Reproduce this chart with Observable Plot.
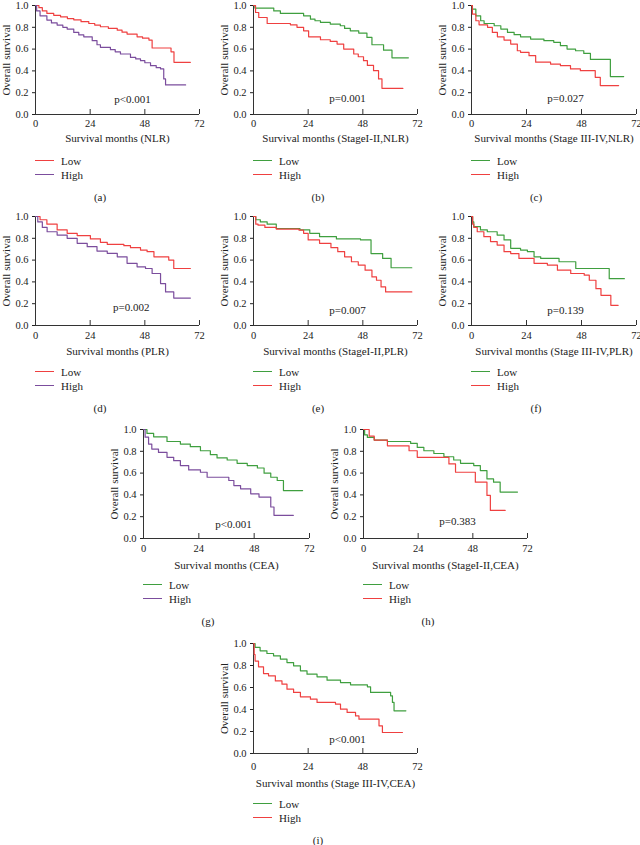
<!DOCTYPE html>
<html><head><meta charset="utf-8">
<script src="https://cdn.jsdelivr.net/npm/d3@7"></script>
<script src="https://cdn.jsdelivr.net/npm/@observablehq/plot@0.6"></script>
<style>
body{margin:0;background:#fff;}
#fig{position:relative;width:640px;height:845px;font-family:"Liberation Serif","DejaVu Serif",serif;color:#222;overflow:hidden;}
.panel{position:absolute;}
.sw{position:absolute;width:19px;height:0;}
.lt{position:absolute;font-size:11px;line-height:14px;white-space:nowrap;}
.lab{position:absolute;font-size:11px;line-height:14px;transform:translateX(-50%);}
</style></head><body><div id="fig"></div>
<script>
const red = "#ef4040", purple = "#7b4d9d", green = "#3f9f3f";
const xTicks = [0, 24, 48, 72];
const yTicks = [0, 0.2, 0.4, 0.6, 0.8, 1.0];
const groups = ["Low", "High"];
const yTitle = "Overall survival";
const xTitles = ["Survival months (NLR)", "Survival months (StageI-II,NLR)", "Survival months (Stage III-IV,NLR)",
  "Survival months (PLR)", "Survival months (StageI-II,PLR)", "Survival months (Stage III-IV,PLR)",
  "Survival months (CEA)", "Survival months (StageI-II,CEA)", "Survival months (Stage III-IV,CEA)"];
const panelLabels = ["(a)", "(b)", "(c)", "(d)", "(e)", "(f)", "(g)", "(h)", "(i)"];
const pLabels = ["p<0.001", "p=0.001", "p=0.027", "p=0.002", "p=0.007", "p=0.139", "p<0.001", "p=0.383", "p<0.001"];
const pMonths = [42.6, 41.3, 41, 42, 41.3, 41, 39, 41.3, 41.3];
const pSurv = [0.14, 0.147, 0.15, 0.165, 0.14, 0.14, 0.13, 0.16, 0.13];

// Kaplan-Meier curves: [months, survival]
const aLow = [[0,1],[1.5,0.98],[3,0.95],[5,0.927],[8,0.91],[11,0.896],[14,0.88],[16.8,0.869],[20,0.852],[23.4,0.835],[26,0.82],[28.5,0.805],[32,0.79],[35.9,0.774],[38,0.755],[40.2,0.738],[44.6,0.713],[47,0.7],[49.8,0.683],[51.2,0.61],[59.5,0.575],[60.8,0.479],[68,0.479]];
const aHigh = [[0,1],[0.5,0.95],[2,0.905],[5,0.866],[7,0.84],[9.5,0.82],[12,0.8],[13.9,0.784],[16.8,0.753],[19,0.73],[21.2,0.713],[24.9,0.677],[27,0.64],[28.5,0.616],[32.9,0.595],[35,0.575],[37.3,0.555],[41.7,0.524],[44,0.51],[46.1,0.494],[48,0.475],[50.5,0.448],[53,0.43],[54.9,0.418],[56.3,0.326],[57.1,0.271],[65.9,0.271]];
const bLow = [[0,1],[0.6,0.976],[8.9,0.95],[11.8,0.927],[22,0.905],[25,0.875],[27,0.86],[29.4,0.845],[33.7,0.83],[38.1,0.814],[40,0.79],[42.5,0.768],[46.2,0.747],[49.8,0.707],[52,0.64],[57.1,0.59],[60.8,0.52],[68,0.52]];
const bHigh = [[0,1],[0.9,0.936],[2.3,0.89],[6,0.835],[16.2,0.823],[19.1,0.8],[22,0.768],[24.2,0.713],[29.4,0.686],[33.7,0.67],[36.7,0.646],[39.6,0.6],[44,0.555],[46,0.53],[48.3,0.494],[50,0.45],[52.7,0.402],[54.9,0.326],[56.4,0.24],[65.6,0.24]];
const cLow = [[0,1],[0.4,0.966],[1.9,0.905],[4,0.86],[5.5,0.835],[9.9,0.814],[12.8,0.784],[15.7,0.753],[18.6,0.732],[21.4,0.713],[25.8,0.692],[31.6,0.677],[35.9,0.662],[38.8,0.631],[41.7,0.6],[45.4,0.585],[49,0.56],[51.9,0.505],[60.6,0.348],[66.4,0.348]];
const cHigh = [[0,1],[0.4,0.92],[1.9,0.86],[3.3,0.823],[7,0.8],[9.1,0.753],[11.3,0.713],[14.2,0.683],[17.1,0.646],[20,0.585],[21.4,0.57],[25.1,0.54],[28,0.48],[34.5,0.463],[38.8,0.448],[43.2,0.418],[47.5,0.402],[54,0.341],[56.2,0.265],[64.2,0.265]];
const dLow = [[0,1],[2,0.97],[5,0.93],[9.5,0.877],[13.9,0.846],[18.3,0.825],[24.1,0.794],[28.5,0.763],[31.5,0.745],[38.8,0.732],[41.7,0.714],[46.1,0.692],[49,0.677],[52,0.63],[58.5,0.6],[60.7,0.523],[68,0.523]];
const dHigh = [[0,1],[1,0.95],[3,0.9],[5.1,0.86],[9.5,0.83],[13.9,0.8],[18.3,0.754],[22.7,0.723],[27,0.683],[31.5,0.662],[35.9,0.63],[40.2,0.57],[44.6,0.538],[48.3,0.523],[51.2,0.477],[54.9,0.385],[57.1,0.308],[60.7,0.252],[68,0.252]];
const eLow = [[0,1],[1,0.97],[3,0.95],[6,0.93],[10,0.89],[20.4,0.877],[24.7,0.846],[29,0.815],[36.4,0.794],[47,0.785],[51.6,0.66],[56.7,0.615],[60.4,0.53],[69.5,0.53]];
const eHigh = [[0,1],[1,0.93],[2,0.92],[5,0.9],[10,0.885],[20,0.875],[22,0.846],[24,0.785],[29,0.754],[34,0.714],[37,0.677],[40,0.63],[43,0.585],[46,0.554],[49,0.508],[52,0.446],[54,0.415],[56,0.354],[58,0.308],[69.5,0.308]];
const fLow = [[0,1],[0.5,0.95],[1,0.907],[3.9,0.877],[6.9,0.86],[11.2,0.83],[14.2,0.785],[17.1,0.708],[21.4,0.692],[24.4,0.677],[27.3,0.63],[30.2,0.615],[38.2,0.585],[45.5,0.523],[60.1,0.43],[66.7,0.43]];
const fHigh = [[0,1],[0.5,0.93],[1,0.9],[2.5,0.86],[5.4,0.815],[8.3,0.77],[11.2,0.738],[14.2,0.677],[17.1,0.66],[20.7,0.615],[27.3,0.57],[33.1,0.554],[37.5,0.508],[43.3,0.477],[49.2,0.462],[51.4,0.415],[54.3,0.338],[56.5,0.277],[60.8,0.185],[64,0.185]];
const gLow = [[0,1],[1.5,0.964],[4.4,0.933],[10.2,0.89],[16,0.866],[20.3,0.842],[24.7,0.805],[29,0.769],[31.9,0.739],[36.3,0.72],[40.6,0.69],[45,0.669],[49.4,0.647],[52.3,0.599],[55.2,0.562],[58,0.532],[60.7,0.44],[69,0.44]];
const gHigh = [[0,1],[0.7,0.93],[2.2,0.866],[3.6,0.82],[6.5,0.79],[10.2,0.745],[13.1,0.714],[16,0.669],[19.6,0.629],[24.7,0.608],[27.6,0.562],[37,0.532],[39.2,0.486],[42.1,0.456],[46.5,0.41],[50.1,0.38],[55.2,0.289],[56.6,0.213],[65,0.213]];
const hLow = [[0,1],[0.5,0.95],[1.7,0.927],[4.7,0.903],[10.5,0.89],[20.7,0.872],[23.6,0.836],[26.5,0.805],[30.9,0.78],[35.3,0.75],[39.6,0.72],[42.6,0.69],[48.4,0.669],[51.3,0.623],[54.2,0.547],[57.1,0.517],[60,0.426],[67.6,0.426]];
const hHigh = [[0,1],[2.5,0.94],[4.7,0.903],[10.5,0.85],[20,0.805],[23.6,0.745],[37.5,0.684],[40.4,0.608],[49.1,0.517],[54.2,0.395],[55.7,0.258],[62.2,0.258]];
const iLow = [[0,1],[0.7,0.964],[2.9,0.933],[5.9,0.909],[8.8,0.888],[11.8,0.858],[14.7,0.827],[17.6,0.797],[20.6,0.752],[23.5,0.721],[27.9,0.697],[32.3,0.667],[38.2,0.645],[42.6,0.624],[50,0.606],[51.4,0.555],[60.2,0.524],[61,0.464],[61.7,0.388],[66.9,0.388]];
const iHigh = [[0,1],[0.3,0.9],[0.7,0.84],[2.2,0.788],[4.4,0.727],[6.6,0.706],[9.6,0.66],[12.5,0.63],[14.7,0.585],[17.6,0.555],[20.6,0.515],[25,0.494],[27.9,0.464],[36,0.448],[38.2,0.403],[41.1,0.373],[44.8,0.342],[46.3,0.312],[55.1,0.252],[56.6,0.191],[65.4,0.191]];

const curves = [[aLow,aHigh],[bLow,bHigh],[cLow,cHigh],[dLow,dHigh],[eLow,eHigh],[fLow,fHigh],[gLow,gHigh],[hLow,hHigh],[iLow,iHigh]];
const colors = [[red,purple],[green,red],[green,red],[red,purple],[green,red],[green,red],[green,purple],[green,red],[green,red]];

// layout (pixels): axis origin x, top of y axis, axis size, offsets below axis
const layout = [
  {x0:35,  top:5,   w:164, h:109, tk:5,  tt:24, lg:47, lb:83},
  {x0:253, top:5,   w:164, h:109, tk:5,  tt:24, lg:47, lb:83},
  {x0:471, top:5,   w:165, h:109, tk:5,  tt:24, lg:47, lb:83},
  {x0:35,  top:216, w:164, h:109, tk:6,  tt:26, lg:47, lb:83},
  {x0:253, top:216, w:164, h:109, tk:6,  tt:26, lg:47, lb:83},
  {x0:471, top:216, w:165, h:109, tk:6,  tt:26, lg:47, lb:83},
  {x0:143, top:429, w:166, h:109, tk:6,  tt:27, lg:47, lb:83},
  {x0:363, top:429, w:164, h:109, tk:6,  tt:27, lg:47, lb:83},
  {x0:253, top:643, w:164, h:110, tk:9,  tt:30, lg:51, lb:87}
];

const fig = document.getElementById("fig");
const font = '"Liberation Serif","DejaVu Serif",serif';
const ML = 36, MR = 16, MT = 6, MB = 42;

layout.forEach((L, k) => {
  const marks = [
    Plot.axisY({ticks: yTicks, tickFormat: d3.format(".1f"), tickSize: 3, tickPadding: 4, fontSize: 10.5, label: null}),
    Plot.axisX({ticks: xTicks, tickSize: 0, tickPadding: L.tk, fontSize: 10.5, label: null}),
    Plot.tickX(xTicks.slice(1), {insetTop: L.h - 5, stroke: "#333"}),
    Plot.ruleY([0], {stroke: "#333"}),
    Plot.ruleX([0], {stroke: "#333"})
  ];
  curves[k].forEach((c, j) => {
    marks.push(Plot.line(c, {x: d => d[0], y: d => d[1], curve: "step-after", stroke: colors[k][j], strokeWidth: 1.2}));
  });
  marks.push(Plot.text([pLabels[k]], {x: () => pMonths[k], y: () => pSurv[k], text: d => d, fontSize: 11, fill: "#222"}));
  marks.push(Plot.text([xTitles[k]], {frameAnchor: "bottom", dy: L.tt, lineAnchor: "middle", textAnchor: "middle", text: d => d, fontSize: 11, fill: "#222"}));
  marks.push(Plot.text([yTitle], {frameAnchor: "left", rotate: -90, dx: -29, textAnchor: "middle", lineAnchor: "middle", text: d => d, fontSize: 11, fill: "#222"}));

  const chart = Plot.plot({
    width: ML + L.w + MR, height: MT + L.h + MB,
    marginLeft: ML, marginRight: MR, marginTop: MT, marginBottom: MB,
    x: {domain: [0, 72], label: null},
    y: {domain: [0, 1], label: null},
    style: {fontFamily: font, fontSize: "10.5px", color: "#222", background: "transparent", overflow: "visible"},
    marks
  });
  chart.classList.add("panel");
  chart.style.left = (L.x0 - ML) + "px";
  chart.style.top = (L.top - MT) + "px";
  fig.appendChild(chart);

  const bottom = L.top + L.h;
  groups.forEach((g, j) => {
    const yRow = bottom + L.lg + j * 14;
    const sw = document.createElement("div");
    sw.className = "sw";
    sw.style.left = L.x0 + "px";
    sw.style.top = (yRow - 1) + "px";
    sw.style.borderTop = "1.5px solid " + colors[k][j];
    fig.appendChild(sw);
    const t = document.createElement("div");
    t.className = "lt";
    t.style.left = (L.x0 + 26) + "px";
    t.style.top = (yRow - 7) + "px";
    t.textContent = g;
    fig.appendChild(t);
  });
  const lab = document.createElement("div");
  lab.className = "lab";
  lab.style.left = (L.x0 + 65) + "px";
  lab.style.top = (bottom + L.lb - 7) + "px";
  lab.textContent = panelLabels[k];
  fig.appendChild(lab);
});
</script>
</body></html>
